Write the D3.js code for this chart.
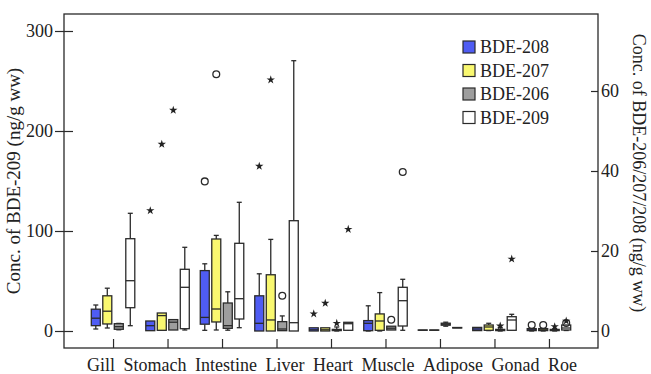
<!DOCTYPE html>
<html><head><meta charset="utf-8">
<script src="https://cdn.jsdelivr.net/npm/d3@7"></script>
<style>
html,body{margin:0;padding:0;background:#fff;}
svg text{font-family:"Times New Roman",Times,"Liberation Serif","DejaVu Serif",serif !important;fill:#222;}
</style></head>
<body><svg id="c" width="651" height="374"></svg>
<script>
// ---------- data ----------
const categories = ["Gill","Stomach","Intestine","Liver","Heart","Muscle","Adipose","Gonad","Roe"];
const seriesNames = ["BDE-208","BDE-207","BDE-206","BDE-209"];
const seriesColors = ["#4f5cf3","#f9f870","#9e9e9e","#ffffff"];
const leftTicks = [0,100,200,300];
const rightTicks = [0,20,40,60];
// [min, q1, median, q3, max]
const bde208 = [[0.5,1.33,3.2,5.45,6.5],[0.08,0.08,1.33,2.5,2.5],[0.17,1.7,3.4,15.1,16.8],[0,0,1.92,8.8,14.3],[0,0,0.3,0.8,0.8],[0,0.08,1.92,2.6,6.3],[0.2,0.2,0.2,0.25,0.25],[0.1,0.1,0.5,0.9,0.9],[0,0.1,0.3,0.6,0.6]];
const bde207 = [[0.75,1.76,4.95,8.8,10.7],[0.17,0.17,3.85,4.5,4.5],[0.25,2.26,5.5,23.0,23.9],[0,0,2.76,14.06,22.9],[0,0,0.3,0.8,0.8],[0,0.17,2.5,4.27,9.6],[0.2,0.2,0.2,0.25,0.25],[0.1,0.17,1.0,1.5,1.93],[0,0.1,0.3,0.6,0.6]];
const bde206 = [[0.3,0.43,1.08,1.83,1.9],[0.25,0.25,2.2,2.85,2.85],[0.2,0.67,1.33,7.0,9.8],[0.08,0.08,0.5,2.34,3.77],[0,0.1,0.2,0.4,1.0],[0.25,0.25,0.7,1.2,1.2],[1.2,1.45,1.7,1.95,2.2],[0,0.1,0.2,0.4,0.9],[0,0.1,0.2,0.4,0.6]];
const bde209 = [[5.3,23.3,50.3,92.3,117.7],[1,2.3,43.7,61.7,83.7],[3.3,12,32.3,87.7,128.7],[0,0,8.3,110.3,270.3],[0.7,0.7,7.3,8.7,8.7],[0.7,5,30.3,43.7,51.7],[3.0,3.0,3.3,3.5,3.5],[0.7,0.7,11,14.3,16.7],[0.5,1,3,6,6]];
// outliers: [category, symbol, value]
const out208 = [["Stomach","star",30.1],["Intestine","circle",37.4],["Liver","star",41.2],["Heart","star",4.3],["Roe","circle",1.5]];
const out207 = [["Stomach","star",46.7],["Intestine","circle",64.2],["Liver","star",62.8],["Heart","star",6.95],["Roe","circle",1.5]];
const out206 = [["Stomach","star",55.2],["Liver","circle",8.8],["Heart","star",1.93],["Muscle","circle",2.8],["Gonad","star",1.26],["Roe","star",1.1]];
const out209 = [["Heart","star",101.7],["Muscle","circle",159],["Gonad","star",72],["Roe","circle",8],["Roe","star",10]];

// ---------- layout ----------
const FONT = '"Times New Roman", Times, "Liberation Serif", "DejaVu Serif", serif';
const svg = d3.select("#c");
const L=64, R=598, T=14, B=348;
const yL = d3.scaleLinear().domain([-17,317]).range([B,T]);
const yR = d3.scaleLinear().domain([-17/4,317/4]).range([B,T]);
const x = d3.scalePoint().domain(categories).range([L,R]).padding(0.9);
const slot = 11.5, bw = 9, cap = 5;
const stroke = "#2a2a2a";

const allSeries = [
  {name:seriesNames[0], data:bde208, out:out208, y:yR, color:seriesColors[0]},
  {name:seriesNames[1], data:bde207, out:out207, y:yR, color:seriesColors[1]},
  {name:seriesNames[2], data:bde206, out:out206, y:yR, color:seriesColors[2]},
  {name:seriesNames[3], data:bde209, out:out209, y:yL, color:seriesColors[3]}
];

// frame
svg.append("rect").attr("x",L).attr("y",T).attr("width",R-L).attr("height",B-T)
  .attr("fill","none").attr("stroke",stroke).attr("stroke-width",1.3);

// left axis
const ga = svg.append("g").attr("transform",`translate(${L},0)`)
  .call(d3.axisLeft(yL).tickValues(leftTicks).tickSize(9).tickPadding(2));
ga.attr("font-family",FONT);
ga.select(".domain").remove();
ga.selectAll(".tick line").attr("x1",9).attr("stroke",stroke).attr("stroke-width",1.2);
ga.selectAll(".tick text").attr("font-size",18).style("font-family",FONT).attr("fill","#222");

// right axis
const gr = svg.append("g").attr("transform",`translate(${R},0)`)
  .call(d3.axisRight(yR).tickValues(rightTicks).tickSize(-7).tickPadding(3));
gr.attr("font-family",FONT);
gr.select(".domain").remove();
gr.selectAll(".tick line").attr("stroke",stroke).attr("stroke-width",1.2);
gr.selectAll(".tick text").attr("font-size",18).style("font-family",FONT).attr("fill","#222");

// bottom axis (ticks inward)
const gb = svg.append("g").attr("transform",`translate(0,${B})`)
  .call(d3.axisBottom(x).tickSize(-9).tickFormat(""));
gb.select(".domain").remove();
gb.selectAll(".tick line").attr("stroke",stroke).attr("stroke-width",1.2);

// category labels laid out as one line
const lab = svg.append("text").attr("x",L+23).attr("y",371).attr("font-size",18).style("font-family",FONT);
categories.forEach((c,i)=>{ lab.append("tspan").attr("dx",i?8.5:0).text(c); });

// axis titles
svg.append("text").attr("transform",`translate(20,${(T+B)/2}) rotate(-90)`).style("font-family",FONT)
  .attr("text-anchor","middle").attr("font-size",19).text("Conc. of BDE-209 (ng/g ww)");
svg.append("text").attr("transform",`translate(633,173) rotate(90)`).style("font-family",FONT)
  .attr("text-anchor","middle").attr("font-size",18).text("Conc. of BDE-206/207/208 (ng/g ww)");

// boxes
allSeries.forEach((s,si)=>{
  const off = (si-1.5)*slot;
  const g = svg.append("g");
  s.data.forEach((d,ci)=>{
    const cx = x(categories[ci])+off, y=s.y;
    const [mn,q1,md,q3,mx]=d;
    if (mx>q3){
      g.append("line").attr("x1",cx).attr("x2",cx).attr("y1",y(q3)).attr("y2",y(mx)).attr("stroke",stroke).attr("stroke-width",1.3);
      g.append("line").attr("x1",cx-cap/2).attr("x2",cx+cap/2).attr("y1",y(mx)).attr("y2",y(mx)).attr("stroke",stroke).attr("stroke-width",1.3);
    }
    if (mn<q1){
      g.append("line").attr("x1",cx).attr("x2",cx).attr("y1",y(q1)).attr("y2",y(mn)).attr("stroke",stroke).attr("stroke-width",1.3);
      g.append("line").attr("x1",cx-cap/2).attr("x2",cx+cap/2).attr("y1",y(mn)).attr("y2",y(mn)).attr("stroke",stroke).attr("stroke-width",1.3);
    }
    g.append("rect").attr("x",cx-bw/2).attr("width",bw)
      .attr("y",y(q3)).attr("height",Math.max(0.01,y(q1)-y(q3)))
      .attr("fill",s.color).attr("stroke",stroke).attr("stroke-width",1.3);
    g.append("line").attr("x1",cx-bw/2).attr("x2",cx+bw/2).attr("y1",y(md)).attr("y2",y(md))
      .attr("stroke",stroke).attr("stroke-width",1.3);
  });
  s.out.forEach(([c,sym,v])=>{
    const cx = x(c)+off, cy=s.y(v);
    if (sym==="circle"){
      g.append("circle").attr("cx",cx).attr("cy",cy).attr("r",3.4)
        .attr("fill","none").attr("stroke",stroke).attr("stroke-width",1.3);
    } else {
      g.append("path").attr("d",d3.symbol(d3.symbolStar,22)())
        .attr("transform",`translate(${cx},${cy})`).attr("fill","#222");
    }
  });
});

// legend
const lg = svg.append("g");
seriesNames.forEach((n,i)=>{
  lg.append("rect").attr("x",463).attr("y",41+i*23.5).attr("width",12).attr("height",12)
    .attr("fill",seriesColors[i]).attr("stroke",stroke).attr("stroke-width",1.2);
  lg.append("text").attr("x",480).attr("y",53+i*23.5).attr("font-size",18).style("font-family",FONT).text(n);
});
</script></body></html>
